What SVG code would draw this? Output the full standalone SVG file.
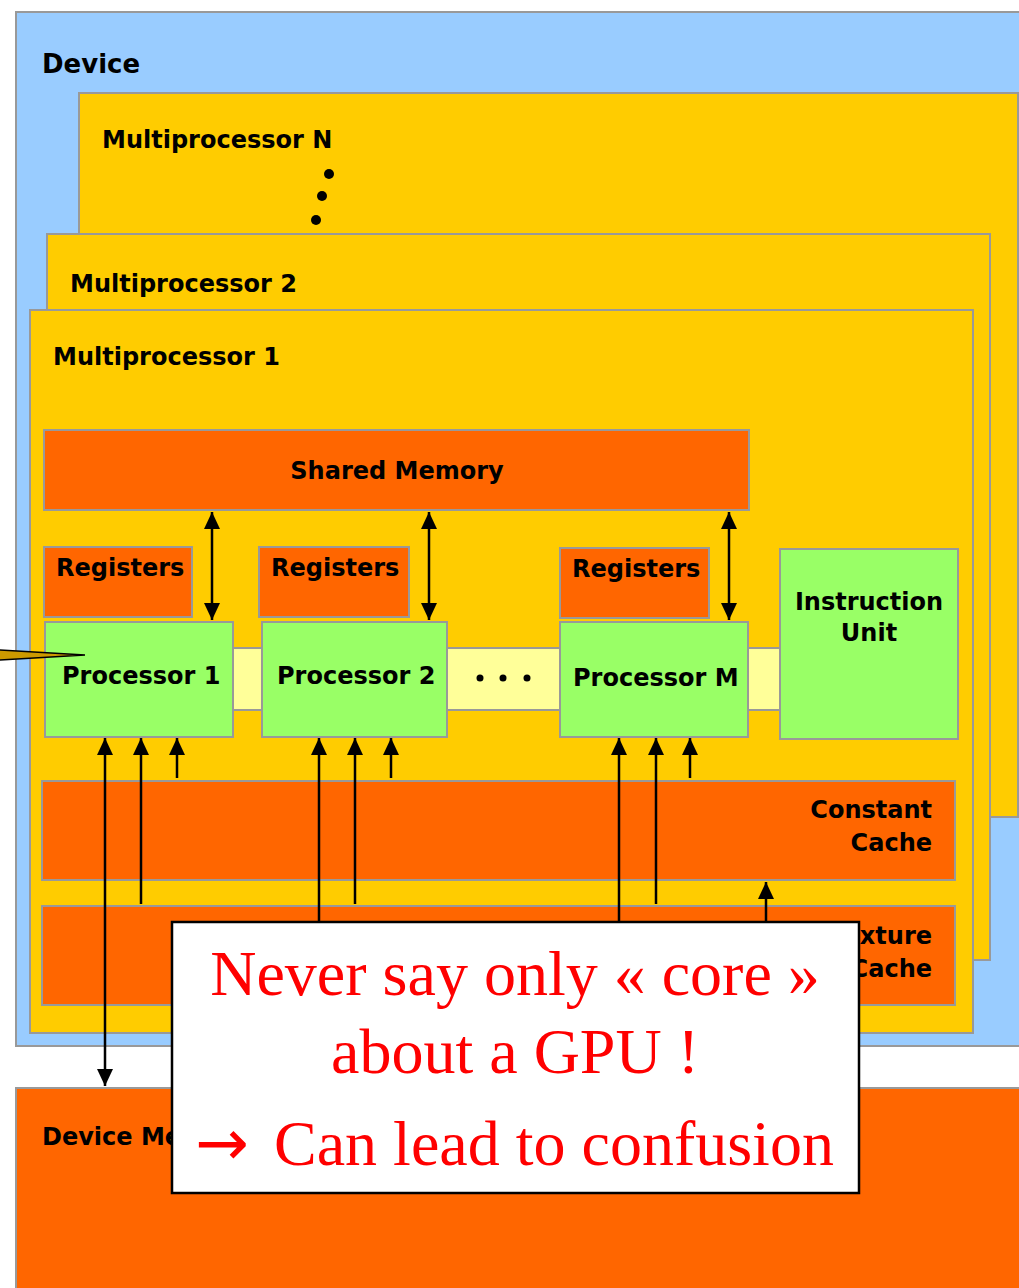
<svg xmlns="http://www.w3.org/2000/svg" width="1019" height="1288" viewBox="0 0 1019 1288">
  <style>
    .box { stroke: #999999; stroke-width: 2; }
    .dev { fill: #99ccff; }
    .mp { fill: #ffcc00; }
    .org { fill: #ff6600; }
    .grn { fill: #99ff66; }
    .lyl { fill: #ffff99; }
    .lbl { font-family: "DejaVu Sans", Verdana, sans-serif; font-weight: bold; font-size: 24px; fill: #000000; }
    .call { font-family: "Liberation Serif", "Times New Roman", serif; font-size: 64px; fill: #ff0000; }
    .conn { stroke: #000000; stroke-width: 2.5; fill: none; }
  </style>
  <defs>
    <marker id="ah" markerUnits="userSpaceOnUse" markerWidth="18" markerHeight="18" viewBox="0 0 18 18" refX="17" refY="9" orient="auto-start-reverse">
      <path d="M0,1 L17,9 L0,17 Z" fill="#000000"/>
    </marker>
    <clipPath id="memclip">
      <rect x="16" y="1088" width="156" height="200"/>
    </clipPath>
    <clipPath id="texclip">
      <rect x="859" y="906" width="100" height="100"/>
    </clipPath>
  </defs>

  <rect width="1019" height="1288" fill="#ffffff"/>

  <g id="device">
    <rect class="box dev" x="16" y="12" width="1020" height="1034"/>
    <text class="lbl" x="42" y="73" style="font-size:26px">Device</text>
  </g>

  <g id="multiprocessor-n">
    <rect class="box mp" x="79" y="93" width="939" height="724"/>
    <text class="lbl" x="102" y="148">Multiprocessor N</text>
    <circle cx="329" cy="174" r="5" fill="#000"/>
    <circle cx="322" cy="196" r="5" fill="#000"/>
    <circle cx="316" cy="220" r="5" fill="#000"/>
  </g>

  <g id="multiprocessor-2">
    <rect class="box mp" x="47" y="234" width="943" height="726"/>
    <text class="lbl" x="70" y="292">Multiprocessor 2</text>
  </g>

  <g id="multiprocessor-1">
    <rect class="box mp" x="30" y="310" width="943" height="723"/>
    <text class="lbl" x="53" y="365">Multiprocessor 1</text>
  </g>

  <g id="shared-memory">
    <rect class="box org" x="44" y="430" width="705" height="80"/>
    <text class="lbl" x="397" y="479" text-anchor="middle">Shared Memory</text>
  </g>

  <g id="registers-1">
    <rect class="box org" x="44" y="547" width="148" height="70"/>
    <text class="lbl" x="56" y="576">Registers</text>
  </g>
  <g id="registers-2">
    <rect class="box org" x="259" y="547" width="150" height="70"/>
    <text class="lbl" x="271" y="576">Registers</text>
  </g>
  <g id="registers-m">
    <rect class="box org" x="560" y="548" width="149" height="70"/>
    <text class="lbl" x="572" y="577">Registers</text>
  </g>

  <g id="links">
    <rect class="box lyl" x="233" y="648" width="29" height="62"/>
    <rect class="box lyl" x="447" y="648" width="113" height="62"/>
    <circle cx="480" cy="678" r="3.5" fill="#000"/>
    <circle cx="503" cy="678" r="3.5" fill="#000"/>
    <circle cx="527" cy="678" r="3.5" fill="#000"/>
    <rect class="box lyl" x="748" y="648" width="32" height="62"/>
  </g>

  <g id="processor-1">
    <rect class="box grn" x="45" y="622" width="188" height="115"/>
    <text class="lbl" x="62" y="684">Processor 1</text>
  </g>
  <g id="processor-2">
    <rect class="box grn" x="262" y="622" width="185" height="115"/>
    <text class="lbl" x="277" y="684">Processor 2</text>
  </g>
  <g id="processor-m">
    <rect class="box grn" x="560" y="622" width="188" height="115"/>
    <text class="lbl" x="573" y="686">Processor M</text>
  </g>

  <g id="instruction-unit">
    <rect class="box grn" x="780" y="549" width="178" height="190"/>
    <text class="lbl" x="869" y="610" text-anchor="middle">Instruction</text>
    <text class="lbl" x="869" y="641" text-anchor="middle">Unit</text>
  </g>

  <g id="constant-cache">
    <rect class="box org" x="42" y="781" width="913" height="99"/>
    <text class="lbl" x="932" y="818" text-anchor="end">Constant</text>
    <text class="lbl" x="932" y="851" text-anchor="end">Cache</text>
  </g>

  <g id="texture-cache">
    <rect class="box org" x="42" y="906" width="913" height="99"/>
    <g clip-path="url(#texclip)">
      <text class="lbl" x="932" y="944" text-anchor="end">Texture</text>
      <text class="lbl" x="932" y="977" text-anchor="end">Cache</text>
    </g>
  </g>

  <g id="device-memory">
    <rect class="box org" x="16" y="1088" width="1020" height="220"/>
    <text class="lbl" x="42" y="1145" clip-path="url(#memclip)">Device Memory</text>
  </g>

  <g id="connectors">
    <line class="conn" x1="212" y1="512" x2="212" y2="620" marker-start="url(#ah)" marker-end="url(#ah)"/>
    <line class="conn" x1="429" y1="512" x2="429" y2="620" marker-start="url(#ah)" marker-end="url(#ah)"/>
    <line class="conn" x1="729" y1="512" x2="729" y2="620" marker-start="url(#ah)" marker-end="url(#ah)"/>

    <line class="conn" x1="105" y1="738" x2="105" y2="1086" marker-start="url(#ah)" marker-end="url(#ah)"/>
    <line class="conn" x1="141" y1="904" x2="141" y2="738" marker-end="url(#ah)"/>
    <line class="conn" x1="177" y1="778" x2="177" y2="738" marker-end="url(#ah)"/>

    <line class="conn" x1="319" y1="924" x2="319" y2="738" marker-end="url(#ah)"/>
    <line class="conn" x1="355" y1="904" x2="355" y2="738" marker-end="url(#ah)"/>
    <line class="conn" x1="391" y1="778" x2="391" y2="738" marker-end="url(#ah)"/>

    <line class="conn" x1="619" y1="924" x2="619" y2="738" marker-end="url(#ah)"/>
    <line class="conn" x1="656" y1="904" x2="656" y2="738" marker-end="url(#ah)"/>
    <line class="conn" x1="690" y1="778" x2="690" y2="738" marker-end="url(#ah)"/>

    <line class="conn" x1="766" y1="924" x2="766" y2="882" marker-end="url(#ah)"/>
  </g>

  <g id="pointer">
    <polygon points="-2,650 85,655 -2,660" fill="#cc9900" stroke="#000000" stroke-width="1.5" stroke-linejoin="miter"/>
  </g>

  <g id="callout">
    <rect x="172" y="922" width="687" height="271" fill="#ffffff" stroke="#000000" stroke-width="2.5"/>
    <text class="call" x="515" y="995" text-anchor="middle">Never say only « core »</text>
    <text class="call" x="515" y="1073" text-anchor="middle">about a GPU !</text>
    <text class="call" y="1165"><tspan x="195" style="font-family:'DejaVu Sans',sans-serif;font-size:64px">→</tspan><tspan x="274">Can lead to confusion</tspan></text>
  </g>
</svg>
